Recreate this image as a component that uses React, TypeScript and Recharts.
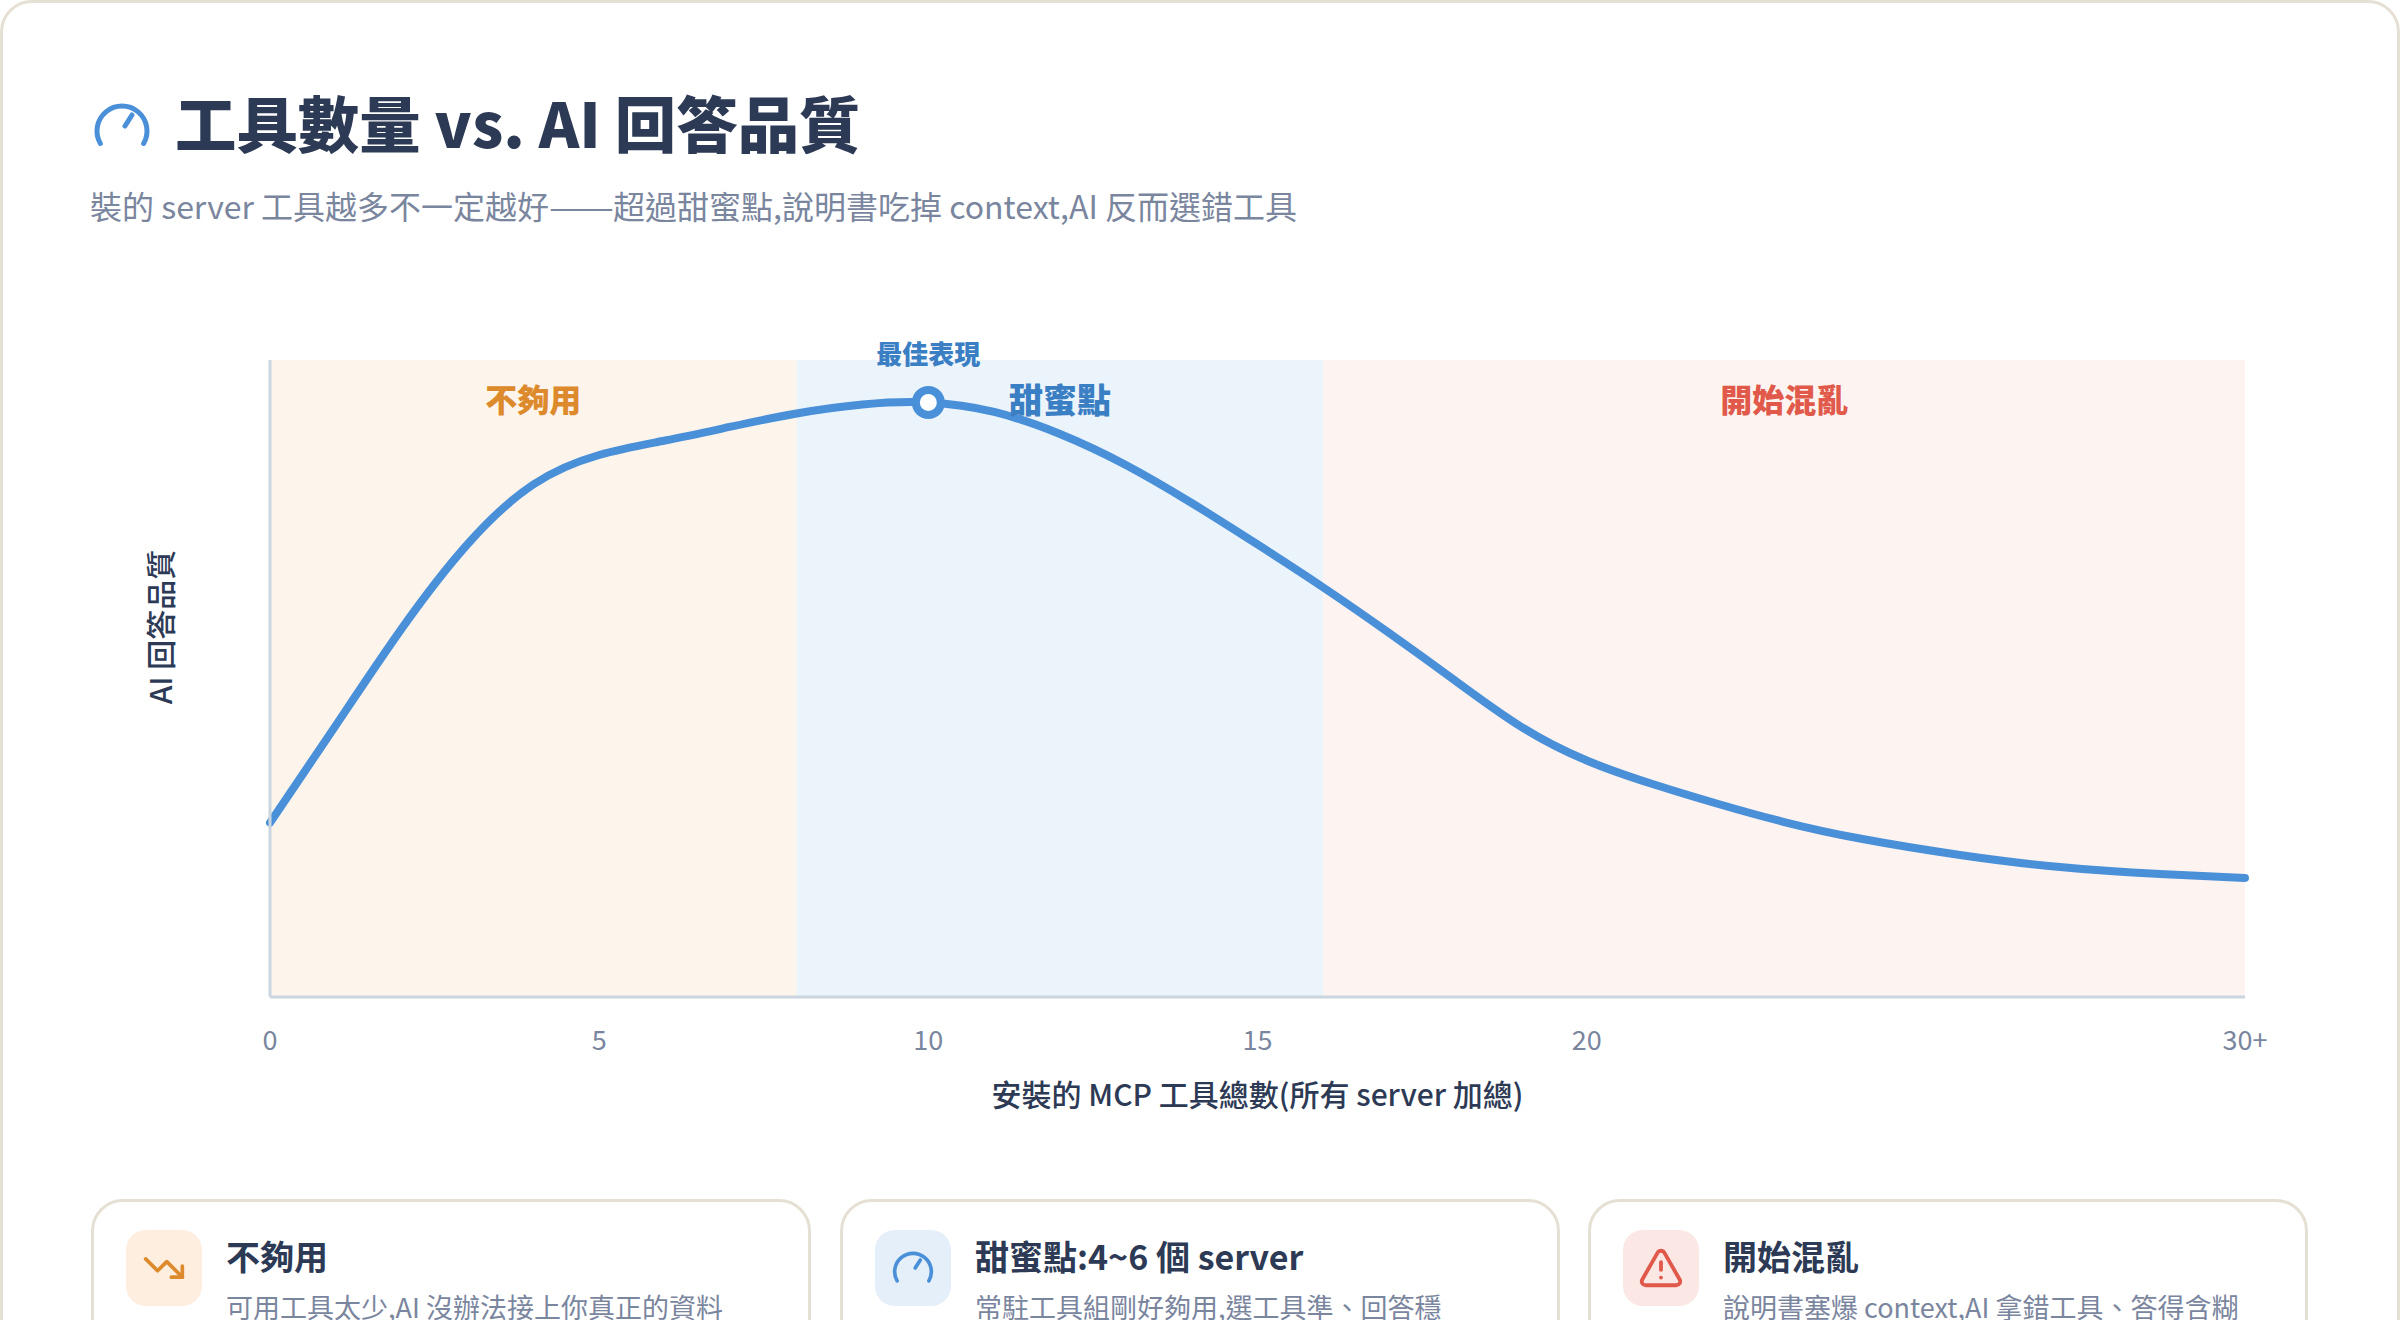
import { ComposedChart, Line, XAxis, YAxis, ReferenceArea, ReferenceDot } from "recharts";

const toolCounts = [0, 1, 2, 3, 4, 5, 6, 7, 8, 9, 10, 11, 12, 13, 14, 15, 16, 17, 18, 19, 20, 21, 22, 23, 24.15, 25.67, 27.19, 28.71, 30];
const quality = [27.36, 42.64, 57.83, 71.08, 80.46, 85.09, 87.36, 89.53, 91.6, 93.01, 93.33, 91.84, 88.38, 83.52, 77.55, 71.04, 64.29, 57.14, 49.69, 42.46, 37.13, 33.44, 30.3, 27.47, 24.88, 22.3, 20.4, 19.3, 18.7];
const xTicks = [0, 5, 10, 15, 20, 30];
const peak = { x: 10, y: 93.33, label: "最佳表現" };
const zones = [
  { from: 0, to: 8, name: "不夠用", fill: "#fdf5ec", color: "#dd8a2c", size: 32 },
  { from: 8, to: 16, name: "甜蜜點", fill: "#ebf3fb", color: "#3a7fc4", size: 34 },
  { from: 16, to: 30, name: "開始混亂", fill: "#fdf3f0", color: "#e0594a", size: 32 },
];

const chartData = toolCounts.map((tools, i) => ({ tools, quality: quality[i] }));

const FONT = '"Noto Sans CJK TC", "Noto Sans", sans-serif';
const DARK = "#2d3a55";
const MUTED = "#7a859e";
const BORDER = "#e5e0d3";

const GaugeIcon = ({ size, color }: { size: number; color: string }) => (
  <svg width={size} height={size} viewBox="0 0 24 24" fill="none" stroke={color} strokeWidth={2} strokeLinecap="round" strokeLinejoin="round">
    <path d="M3.34 19a10 10 0 1 1 17.32 0" />
    <path d="M13.2 12 16 7.6" />
  </svg>
);

const TrendIcon = ({ size, color }: { size: number; color: string }) => (
  <svg width={size} height={size} viewBox="0 0 24 24" fill="none" stroke={color} strokeWidth={2} strokeLinecap="round" strokeLinejoin="round">
    <path d="M22 17 13.5 8.5 8.5 13.5 2 7" />
    <path d="M16 17h6v-6" />
  </svg>
);

const AlertIcon = ({ size, color }: { size: number; color: string }) => (
  <svg width={size} height={size} viewBox="0 0 24 24" fill="none" stroke={color} strokeWidth={2} strokeLinecap="round" strokeLinejoin="round">
    <path d="m21.73 18-8-14a2 2 0 0 0-3.48 0l-8 14A2 2 0 0 0 4 21h16a2 2 0 0 0 1.73-3" />
    <path d="M12 9v4" />
    <path d="M12 17h.01" />
  </svg>
);

const cards = [
  { left: 91, tile: "#fdeee0", icon: <TrendIcon size={44} color="#dd8a2c" />, title: "不夠用", text: "可用工具太少,AI 沒辦法接上你真正的資料" },
  { left: 840, tile: "#e4effa", icon: <GaugeIcon size={44} color="#4a90d9" />, title: "甜蜜點:4~6 個 server", text: "常駐工具組剛好夠用,選工具準、回答穩" },
  { left: 1588, tile: "#fbe7e3", icon: <AlertIcon size={46} color="#e0594a" />, title: "開始混亂", text: "說明書塞爆 context,AI 拿錯工具、答得含糊" },
];

const YTitle = () => (
  <text x={159} y={627} transform="rotate(-90 159 627)" textAnchor="middle" dominantBaseline="central" fill={DARK} fontSize={30} fontWeight={500} fontFamily={FONT}>
    AI 回答品質
  </text>
);

const App = () => {
  return (
    <div style={{ position: "absolute", left: 0, top: 0, width: 2400, height: 1320, overflow: "hidden", background: "#fff", fontFamily: FONT }}>
      <div style={{ position: "absolute", left: 0, top: 0, width: 2400, height: 1400, boxSizing: "border-box", border: `3px solid ${BORDER}`, borderRadius: 32 }} />

      <div style={{ position: "absolute", left: 92, top: 96 }}>
        <GaugeIcon size={60} color="#4a90d9" />
      </div>
      <div style={{ position: "absolute", left: 175, top: 80, fontSize: 61.4, fontWeight: 900, color: DARK, lineHeight: "84px", whiteSpace: "nowrap" }}>工具數量 vs. AI 回答品質</div>
      <div style={{ position: "absolute", left: 90, top: 180, fontSize: 32, color: MUTED, lineHeight: "50px", whiteSpace: "nowrap" }}>
        裝的 server 工具越多不一定越好<span style={{ display: "inline-block", width: 64, transform: "scaleX(1.21)", transformOrigin: "left center" }}>——</span>超過甜蜜點,說明書吃掉 context,AI 反而選錯工具
      </div>

      <div style={{ position: "absolute", left: 0, top: 0 }}>
        <ComposedChart width={2400} height={1180} data={chartData} margin={{ top: 360, right: 155, bottom: 0, left: 0 }}>
          {zones.map((z) => (
            <ReferenceArea
              key={z.name}
              x1={z.from}
              x2={z.to}
              y1={0}
              y2={100}
              fill={z.fill}
              fillOpacity={1}
              stroke="none"
              label={{ value: z.name, position: "insideTop", offset: 29, fill: z.color, fontSize: z.size, fontWeight: 900, fontFamily: FONT }}
            />
          ))}
          <XAxis
            dataKey="tools"
            type="number"
            domain={[0, 30]}
            ticks={xTicks}
            tickFormatter={(v: number) => (v === 30 ? "30+" : String(v))}
            height={183}
            tickLine={false}
            tickMargin={28}
            axisLine={{ stroke: "#cbd5e0", strokeWidth: 3 }}
            tick={{ fill: MUTED, fontSize: 27, fontFamily: FONT }}
            label={{ value: "安裝的 MCP 工具總數(所有 server 加總)", position: "insideBottom", offset: 74, fill: DARK, fontSize: 30, fontWeight: 500, fontFamily: FONT }}
          />
          <YAxis
            type="number"
            domain={[0, 100]}
            width={270}
            tick={false}
            tickLine={false}
            axisLine={{ stroke: "#cbd5e0", strokeWidth: 3 }}
            label={{ content: () => <YTitle /> }}
          />
          <Line
            type="natural"
            dataKey="quality"
            stroke="#4a90d9"
            strokeWidth={8}
            strokeLinecap="round"
            dot={false}
            activeDot={false}
            isAnimationActive={false}
          />
          <ReferenceDot
            x={peak.x}
            y={peak.y}
            r={12.5}
            fill="#fff"
            stroke="#4a90d9"
            strokeWidth={8}
            label={{ value: peak.label, position: "top", offset: 26, fill: "#3a7fc4", fontSize: 26, fontWeight: 900, fontFamily: FONT }}
          />
        </ComposedChart>
      </div>

      {cards.map((c) => (
        <div key={c.title} style={{ position: "absolute", left: c.left, top: 1199, width: 720, height: 200, boxSizing: "border-box", border: `3px solid ${BORDER}`, borderRadius: 32, background: "#fff" }}>
          <div style={{ position: "absolute", left: 32, top: 28, width: 76, height: 76, borderRadius: 20, background: c.tile, display: "flex", alignItems: "center", justifyContent: "center" }}>
            {c.icon}
          </div>
          <div style={{ position: "absolute", left: 132, top: 29, fontSize: 34, fontWeight: 700, color: DARK, lineHeight: "50px", whiteSpace: "nowrap" }}>{c.title}</div>
          <div style={{ position: "absolute", left: 132, top: 93, fontSize: 27, color: MUTED, lineHeight: "24px", whiteSpace: "nowrap" }}>{c.text}</div>
        </div>
      ))}
    </div>
  );
};

export default App;
